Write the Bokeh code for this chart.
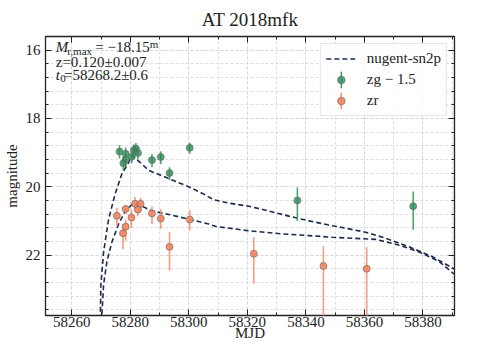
import numpy as np
from bokeh.plotting import figure
from bokeh.models import (Range1d, SingleIntervalTicker, LinearAxis, Legend,
                          LegendItem, Label, ColumnDataSource, CustomJSTickFormatter)
from bokeh.embed import file_html
from bokeh.resources import INLINE

# ---------------- data ----------------
G_OFFSET = 1.5

# observed zg photometry (plotted as zg - 1.5)
g_mjd = [58276.3, 58277.6, 58278.4, 58278.4, 58280.5, 58281.2, 58281.9, 58282.6,
         58287.4, 58290.4, 58293.4, 58300.3, 58337.1, 58376.7]
g_mag = [20.47, 20.81, 20.70, 20.53, 20.62, 20.43, 20.38, 20.51,
         20.72, 20.63, 21.10, 20.36, 21.90, 22.07]
g_err_up = [0.19, 0.18, 0.17, 0.18, 0.17, 0.17, 0.16, 0.17, 0.18, 0.17, 0.17, 0.15, 0.38, 0.43]
g_err_dn = [0.20, 0.22, 0.20, 0.20, 0.19, 0.19, 0.18, 0.19, 0.21, 0.20, 0.21, 0.17, 0.60, 0.69]

# observed zr photometry
r_mjd = [58275.4, 58277.5, 58278.4, 58278.4, 58280.4, 58281.6, 58282.6, 58283.5,
         58287.4, 58290.4, 58293.4, 58300.3, 58322.2, 58346.0, 58360.8]
r_mag = [20.85, 21.36, 20.65, 21.17, 20.90, 20.50, 20.67, 20.50,
         20.78, 20.93, 21.76, 20.96, 21.96, 22.32, 22.40]
r_err_up = [0.23, 0.27, 0.12, 0.21, 0.23, 0.20, 0.17, 0.18, 0.20, 0.27, 0.43, 0.27, 0.48, 0.58, 0.63]
r_err_dn = [0.29, 0.47, 0.15, 0.41, 0.31, 0.20, 0.20, 0.20, 0.31, 0.30, 0.69, 0.32, 0.87, 1.60, 1.70]

# nugent-sn2p model curves
mod_g_mjd = [58269.55, 58269.73, 58269.93, 58270.86, 58272.57, 58274.86, 58277.12, 58279.42,
             58280.55, 58283.42, 58286.27, 58293.12, 58299.97, 58304.52, 58308.53, 58313.66,
             58320.51, 58327.36, 58334.21, 58341.06, 58349.04, 58360.48, 58367.33, 58375.31,
             58383.29, 58390.14, 58392.0]
mod_g_mag = [26.10, 25.26, 24.36, 23.41, 22.45, 21.69, 21.12, 20.79,
             20.59, 20.79, 21.02, 21.26, 21.50, 21.69, 21.88, 21.98,
             22.07, 22.21, 22.36, 22.50, 22.64, 22.83, 23.01, 23.26,
             23.55, 23.88, 23.97]
mod_r_mjd = [58270.00, 58270.27, 58270.86, 58271.99, 58273.70, 58275.99, 58278.29, 58280.55,
             58281.71, 58284.55, 58287.40, 58293.12, 58299.97, 58306.82, 58309.11, 58320.51,
             58331.92, 58341.06, 58349.04, 58363.90, 58371.88, 58378.73, 58385.58, 58390.14,
             58392.0]
mod_r_mag = [24.20, 23.76, 22.86, 22.19, 21.62, 21.09, 20.71, 20.52,
             20.48, 20.59, 20.71, 20.81, 20.95, 21.09, 21.16, 21.29,
             21.38, 21.43, 21.48, 21.54, 21.71, 21.91, 22.19, 22.52,
             22.62]

x_ticks_interval = 20
y_ticks_interval = 2

# ---------------- styling ----------------
SERIF = "Liberation Serif"
GREEN = "#2e8b57"
GREEN_BAR = "#3a9d5d"
ORANGE = "#f4845f"
ORANGE_BAR = "#f9906c"
NAVY = "#1c2b4d"
EDGE = "#6a6a6a"
X0, X1 = 58251.0, 58390.8
Y_BOTTOM, Y_TOP = 23.77, 15.6

p = figure(width=462, height=343, output_backend="svg", toolbar_location=None,
           x_range=Range1d(X0, X1), y_range=Range1d(Y_BOTTOM, Y_TOP),
           min_border_left=39, min_border_right=8, min_border_top=28,
           min_border_bottom=20, title="AT 2018mfk")
p.background_fill_color = "white"
p.border_fill_color = "white"
p.outline_line_color = "#222222"
p.outline_line_width = 1.3

p.title.align = "center"
p.title.text_font = SERIF
p.title.text_font_size = "19px"
p.title.text_font_style = "normal"
p.title.text_color = "#222222"
p.title.standoff = 13

xt = SingleIntervalTicker(interval=x_ticks_interval, num_minor_ticks=2)
yt = SingleIntervalTicker(interval=y_ticks_interval, num_minor_ticks=5)

def style_axis(ax):
    ax.major_tick_in = 6
    ax.major_tick_out = 0
    ax.minor_tick_in = 3
    ax.minor_tick_out = 0
    ax.major_tick_line_color = "#222222"
    ax.minor_tick_line_color = "#222222"
    ax.axis_line_color = None
    ax.major_label_text_font = SERIF
    ax.major_label_text_font_size = "15px"
    ax.major_label_text_color = "#222222"
    ax.axis_label_text_font = SERIF
    ax.axis_label_text_font_size = "15px"
    ax.axis_label_text_font_style = "normal"
    ax.axis_label_text_color = "#222222"

p.xaxis.ticker = xt
p.yaxis.ticker = yt
p.xaxis.axis_label = "MJD"
p.yaxis.axis_label = "magnitude"
style_axis(p.xaxis[0])
style_axis(p.yaxis[0])
p.xaxis.major_label_standoff = 1
p.xaxis.axis_label_standoff = -5
p.yaxis.major_label_standoff = 5
p.yaxis.axis_label_standoff = 3

blank = CustomJSTickFormatter(code="return ''")
top_ax = LinearAxis(ticker=xt, formatter=blank)
right_ax = LinearAxis(ticker=yt, formatter=blank)
style_axis(top_ax)
style_axis(right_ax)
top_ax.major_label_standoff = 0
right_ax.major_label_standoff = 0
p.add_layout(top_ax, "above")
p.add_layout(right_ax, "right")

for g in (p.xgrid[0], p.ygrid[0]):
    g.grid_line_color = "#d6d6d6"
    g.grid_line_dash = "3 2"
    g.grid_line_width = 0.8
    g.minor_grid_line_color = "#d6d6d6"
    g.minor_grid_line_dash = "3 2"
    g.minor_grid_line_width = 0.8

# ---------------- model curves ----------------
mg = np.array(mod_g_mag) - G_OFFSET
line_g = p.line(mod_g_mjd, mg, line_color=NAVY, line_width=1.6, line_dash="5 3")
line_r = p.line(mod_r_mjd, mod_r_mag, line_color=NAVY, line_width=1.6, line_dash="5 3")

# ---------------- photometry ----------------
gm = np.array(g_mag) - G_OFFSET
gsrc = ColumnDataSource(dict(x=g_mjd, y=gm,
                             y0=gm - np.array(g_err_up), y1=gm + np.array(g_err_dn)))
rm = np.array(r_mag)
rsrc = ColumnDataSource(dict(x=r_mjd, y=rm,
                             y0=rm - np.array(r_err_up), y1=rm + np.array(r_err_dn)))

p.segment(x0="x", y0="y0", x1="x", y1="y1", source=gsrc, line_color=GREEN_BAR,
          line_width=1.6, line_alpha=0.9)
sc_g = p.scatter("x", "y", source=gsrc, size=7, fill_color=GREEN, fill_alpha=0.8,
                 line_color=EDGE, line_width=0.8, line_alpha=0.8)
p.segment(x0="x", y0="y0", x1="x", y1="y1", source=rsrc, line_color=ORANGE_BAR,
          line_width=1.6, line_alpha=0.9)
sc_r = p.scatter("x", "y", source=rsrc, size=7, fill_color=ORANGE, fill_alpha=0.9,
                 line_color=EDGE, line_width=0.8, line_alpha=0.8)

# legend error-bar glyphs (degenerate ellipse -> vertical bar), kept off-frame
ell_g = p.ellipse(x=[58000], y=[16], width=0.01, height=20, width_units="screen",
                  height_units="screen", fill_color=None, line_color=GREEN_BAR, line_width=1.6)
ell_r = p.ellipse(x=[58000], y=[16], width=0.01, height=20, width_units="screen",
                  height_units="screen", fill_color=None, line_color=ORANGE_BAR, line_width=1.6)

legend = Legend(items=[
    LegendItem(label="nugent-sn2p", renderers=[line_g]),
    LegendItem(label="zg \u2212 1.5", renderers=[ell_g, sc_g]),
    LegendItem(label="zr", renderers=[ell_r, sc_r]),
], location="top_right")
legend.label_text_font = SERIF
legend.label_text_font_size = "15px"
legend.label_text_color = "#222222"
legend.glyph_width = 30
legend.glyph_height = 19
legend.label_height = 19
legend.label_standoff = 11
legend.spacing = 2
legend.padding = 5
legend.margin = 7
legend.border_line_color = "#cccccc"
legend.border_line_width = 1
legend.background_fill_alpha = 0.85
p.add_layout(legend)

# ---------------- annotation text ----------------
def lab(x, y, text, size="15px", style="normal"):
    p.add_layout(Label(x=x, y=y, text=text, text_font=SERIF, text_font_size=size,
                       text_font_style=style, text_baseline="middle",
                       text_color="#222222"))

lab(58254.5, 15.92, "M", "15px", "italic")
lab(58258.4, 16.02, "r,max", "11px")
lab(58268.0, 15.92, "= \u221218.15")
lab(58286.6, 15.82, "m", "11px")
lab(58254.5, 16.35, "z=0.120\u00b10.007")
lab(58254.5, 16.74, "t", "15px", "italic")
lab(58256.0, 16.82, "0", "11px")
lab(58257.3, 16.74, "=58268.2\u00b10.6")

open("out.html", "w").write(file_html(p, INLINE))
